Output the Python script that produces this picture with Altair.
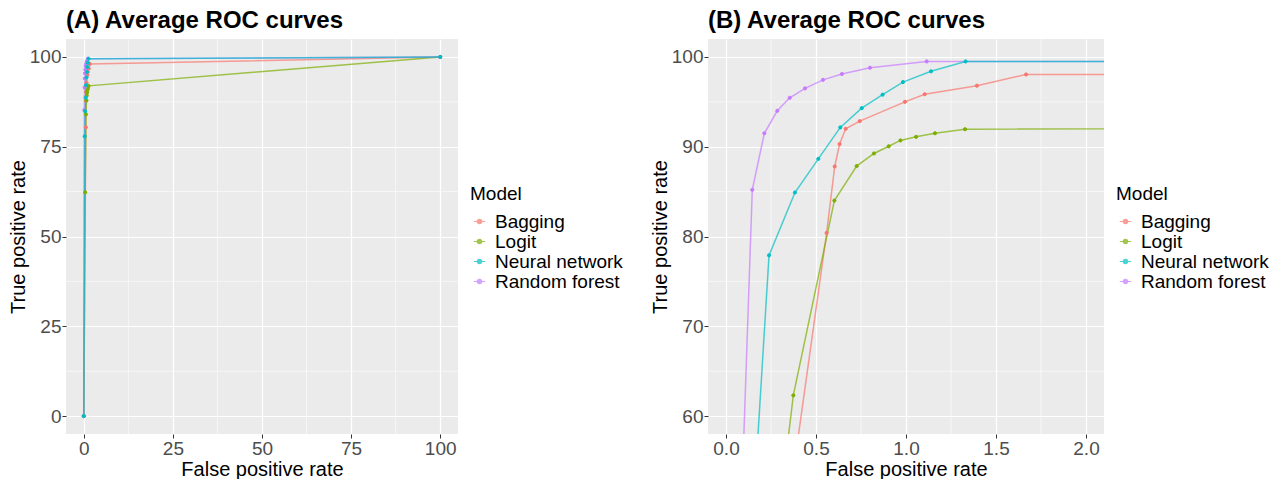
import altair as alt
import pandas as pd

models = ["Bagging", "Logit", "Neural network", "Random forest"]
colors = ["#F8766D", "#7CAE00", "#00BFC4", "#C77CFF"]

bag_fpr = [0, 0.559, 0.604, 0.631, 0.665, 0.743, 0.994, 1.104, 1.394, 1.667, 100]
bag_tpr = [0, 80.4, 87.8, 90.3, 92.0, 92.85, 95.0, 95.85, 96.8, 98.05, 100]

log_fpr = [0, 0.374, 0.602, 0.726, 0.822, 0.904, 0.969, 1.056, 1.161, 1.328, 100]
log_tpr = [0, 62.3, 84.0, 87.85, 89.25, 90.05, 90.7, 91.1, 91.5, 91.95, 100]

nn_fpr = [0, 0.239, 0.383, 0.513, 0.635, 0.754, 0.870, 0.983, 1.139, 1.331, 100]
nn_tpr = [0, 77.9, 84.9, 88.65, 92.15, 94.3, 95.8, 97.2, 98.4, 99.5, 100]

rf_fpr = [0, 0.146, 0.213, 0.285, 0.354, 0.439, 0.539, 0.644, 0.800, 1.115, 100]
rf_tpr = [0, 85.2, 91.5, 94.0, 95.45, 96.5, 97.45, 98.1, 98.8, 99.5, 100]

# drawing order (neural network points end on top, as in the reference)
series = [(models[0], bag_fpr, bag_tpr), (models[1], log_fpr, log_tpr),
          (models[3], rf_fpr, rf_tpr), (models[2], nn_fpr, nn_tpr)]
rows = []
for m, fs, ts in series:
    for i, (f, t) in enumerate(zip(fs, ts)):
        rows.append({"Model": m, "fpr": f, "tpr": t, "idx": i})
df = pd.DataFrame(rows)

# panel A axes
a_xdom = [-5, 105]
a_ydom = [-5, 105]
a_xticks = [0, 25, 50, 75, 100]
a_yticks = [0, 25, 50, 75, 100]
a_xminor = [12.5, 37.5, 62.5, 87.5]
a_yminor = [12.5, 37.5, 62.5, 87.5]

# panel B axes
b_xdom = [-0.1, 2.1]
b_ydom = [58, 102]
b_xticks = [0, 0.5, 1.0, 1.5, 2.0]
b_yticks = [60, 70, 80, 90, 100]
b_xminor = [0.25, 0.75, 1.25, 1.75]
b_yminor = [65, 75, 85, 95]

FONT = "Liberation Sans"
SYMBOL = "M-1,0L1,0M0.38,0A0.38,0.38,0,1,1,-0.38,0A0.38,0.38,0,1,1,0.38,0Z"


def panel(title, xdom, ydom, xticks, yticks, xminor, yminor, xfmt, w, h):
    xs = alt.Scale(domain=xdom, nice=False, zero=False)
    ys = alt.Scale(domain=ydom, nice=False, zero=False)
    cs = alt.Scale(domain=models, range=colors)
    axis_common = dict(grid=True, gridColor="white", gridWidth=1.2, domain=False,
                       tickColor="#333333", tickSize=4, tickWidth=1,
                       labelFont=FONT, labelFontSize=19, labelColor="#4D4D4D",
                       labelPadding=1, titleFont=FONT, titleFontSize=20,
                       titleColor="black", titleFontWeight="normal", titlePadding=1)
    xaxis = alt.Axis(values=xticks, format=xfmt, title="False positive rate", **axis_common)
    yaxis = alt.Axis(values=yticks, format="d", title="True positive rate", **axis_common)
    legend = alt.Legend(orient="none", legendX=w + 12, legendY=146, title="Model",
                        titleFont=FONT, titleFontSize=19, titleFontWeight="normal",
                        titleColor="black", titlePadding=8, labelFont=FONT,
                        labelFontSize=19, labelColor="black", symbolType=SYMBOL,
                        symbolSize=130, symbolStrokeWidth=1.2, rowPadding=-2,
                        labelOffset=6, padding=0)

    vmin = alt.Chart(pd.DataFrame({"v": xminor})).mark_rule(
        color="white", strokeWidth=0.6).encode(
        x=alt.X("v:Q", scale=xs, axis=xaxis))
    hmin = alt.Chart(pd.DataFrame({"v": yminor})).mark_rule(
        color="white", strokeWidth=0.6).encode(
        y=alt.Y("v:Q", scale=ys, axis=yaxis))
    lines = alt.Chart(df).mark_line(clip=True, strokeWidth=1.5, opacity=0.7).encode(
        x=alt.X("fpr:Q", scale=xs, axis=xaxis),
        y=alt.Y("tpr:Q", scale=ys, axis=yaxis),
        stroke=alt.Stroke("Model:N", scale=cs, legend=legend),
        order="idx:Q",
    )
    pts = alt.Chart(df).mark_point(clip=True, filled=True, size=10, strokeWidth=1,
                                   opacity=1).encode(
        x=alt.X("fpr:Q", scale=xs, axis=xaxis),
        y=alt.Y("tpr:Q", scale=ys, axis=yaxis),
        fill=alt.Fill("Model:N", scale=cs, legend=legend),
        stroke=alt.Stroke("Model:N", scale=cs, legend=legend),
    )
    return alt.layer(vmin, hmin, lines, pts).properties(
        width=w, height=h,
        title=alt.TitleParams(title, anchor="start", frame="group", font=FONT,
                              fontSize=24, fontWeight="bold", color="black", offset=6),
    )


A = panel("(A) Average ROC curves", a_xdom, a_ydom, a_xticks, a_yticks,
          a_xminor, a_yminor, "d", 392, 395)
B = panel("(B) Average ROC curves", b_xdom, b_ydom, b_xticks, b_yticks,
          b_xminor, b_yminor, ".1f", 396, 395)

chart = alt.hconcat(A, B, spacing=27, padding=0, background="white").resolve_scale(
    stroke="independent", fill="independent"
).configure_view(fill="#EBEBEB", strokeWidth=0)

chart.save("out.html", embed_options={"renderer": "svg", "actions": False})
